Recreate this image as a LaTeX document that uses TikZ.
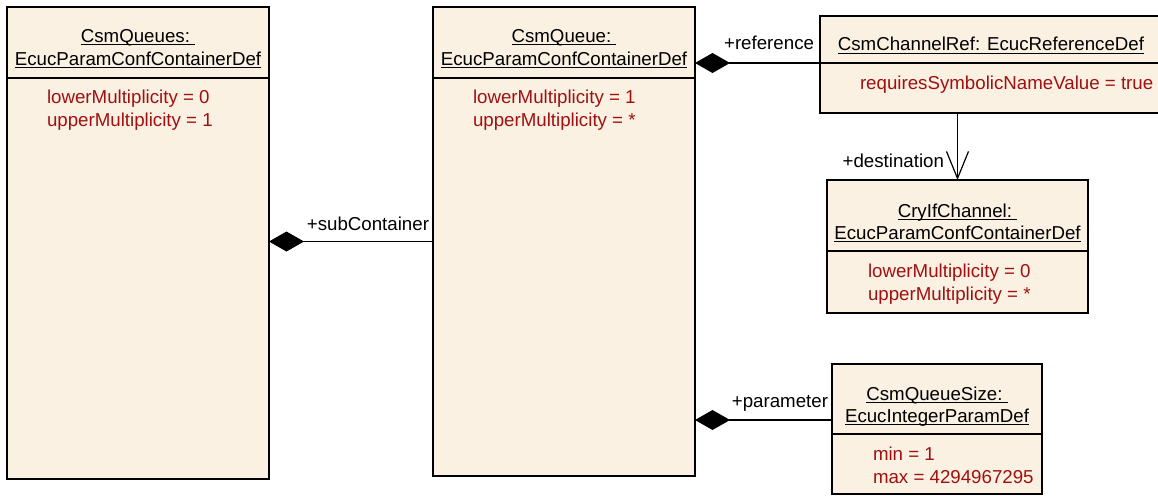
\documentclass[tikz,border=0pt]{standalone}
\usepackage{fontspec}
\setmainfont{Liberation Sans}
\usetikzlibrary{arrows.meta}
\definecolor{classfill}{RGB}{251,241,227}
\definecolor{attrred}{RGB}{160,16,16}
% underline at a fixed depth, independent of descenders
\newcommand\ulline[1]{\setbox0\hbox{#1}\rlap{\rule[-2.4pt]{\wd0}{0.9pt}}\box0}

\begin{document}
\begin{tikzpicture}[x=1pt,y=-1pt,
  every node/.style={font=\fontsize{18.7}{22}\selectfont, inner sep=0pt, outer sep=0pt},
  classbox/.style={draw=black, fill=classfill, line width=1.2pt, anchor=north west},
  sepline/.style={line width=1.2pt},
  title/.style={anchor=base},
  attr/.style={anchor=base west, text=attrred},
  role/.style={anchor=base east},
  comp/.style={line width=1.2pt, -{Diamond[length=35pt,width=20pt,fill=black]}},
  nav/.style={line width=1.2pt, -{Straight Barb[length=27pt,width=22pt]}}]
\clip (0,0) rectangle (1158,495);

% class boxes
\node[classbox, minimum width=262pt, minimum height=472pt] (queues) at (7,7) {};
\node[classbox, minimum width=262pt, minimum height=469pt] (csmq) at (433,7) {};
\node[classbox, minimum width=342pt, minimum height=97pt] (chref) at (820,16) {};
\node[classbox, minimum width=261pt, minimum height=133pt] (cry) at (827,180) {};
\node[classbox, minimum width=210pt, minimum height=130pt] (qsize) at (832,364) {};

% compartment separators
\draw[sepline] ([yshift=-71pt]queues.north west) -- ([yshift=-71pt]queues.north east);
\draw[sepline] ([yshift=-71pt]csmq.north west) -- ([yshift=-71pt]csmq.north east);
\draw[sepline] ([yshift=-47pt]chref.north west) -- ([yshift=-47pt]chref.north east);
\draw[sepline] ([yshift=-71pt]cry.north west) -- ([yshift=-71pt]cry.north east);
\draw[sepline] ([yshift=-70pt]qsize.north west) -- ([yshift=-70pt]qsize.north east);

% CsmQueues
\node[title] (queuesT1) at (138,42) {\ulline{CsmQueues:\ }};
\node[title] (queuesT2) at (138,65) {\ulline{EcucParamConfContainerDef}};
\node[attr] (queuesA1) at (47,103) {lowerMultiplicity = 0};
\node[attr] (queuesA2) at (47,126) {upperMultiplicity = 1};

% CsmQueue
\node[title] (csmqT1) at (564,42) {\ulline{CsmQueue:\ }};
\node[title] (csmqT2) at (564,65) {\ulline{EcucParamConfContainerDef}};
\node[attr] (csmqA1) at (473,103) {lowerMultiplicity = 1};
\node[attr] (csmqA2) at (473,126) {upperMultiplicity = *};

% CsmChannelRef
\node[title] (chrefT) at (991,51) {\ulline{CsmChannelRef: EcucReferenceDef}};
\node[attr] (chrefA) at (860,89) {requiresSymbolicNameValue = true};

% CryIfChannel
\node[title] (cryT1) at (957.5,217) {\ulline{CryIfChannel:\ }};
\node[title] (cryT2) at (957.5,239) {\ulline{EcucParamConfContainerDef}};
\node[attr] (cryA1) at (868,277) {lowerMultiplicity = 0};
\node[attr] (cryA2) at (868,300) {upperMultiplicity = *};

% CsmQueueSize
\node[title] (qsizeT1) at (937,400) {\ulline{CsmQueueSize:\ }};
\node[title] (qsizeT2) at (937,422) {\ulline{EcucIntegerParamDef}};
\node[attr] (qsizeA1) at (873,460) {min = 1};
\node[attr] (qsizeA2) at (873,483) {max = 4294967295};

% connectors
\draw[comp] (csmq.west) -- (csmq.west -| queues.east);
\coordinate (refend) at ([yshift=1.5pt]chref.west);
\draw[comp] (refend) -- (refend -| csmq.east);
\coordinate (parend) at ([yshift=9pt]qsize.west);
\draw[comp] (parend) -- (parend -| csmq.east);
\draw[nav] (chref.south -| cry.north) -- (cry.north);

% role names
\node[role] (subRole) at (429,230) {+subContainer};
\node[role] (refRole) at (814,50) {+reference};
\node[role] (destRole) at (944,167) {+destination};
\node[role] (parRole) at (828,407) {+parameter};
\end{tikzpicture}
\end{document}
